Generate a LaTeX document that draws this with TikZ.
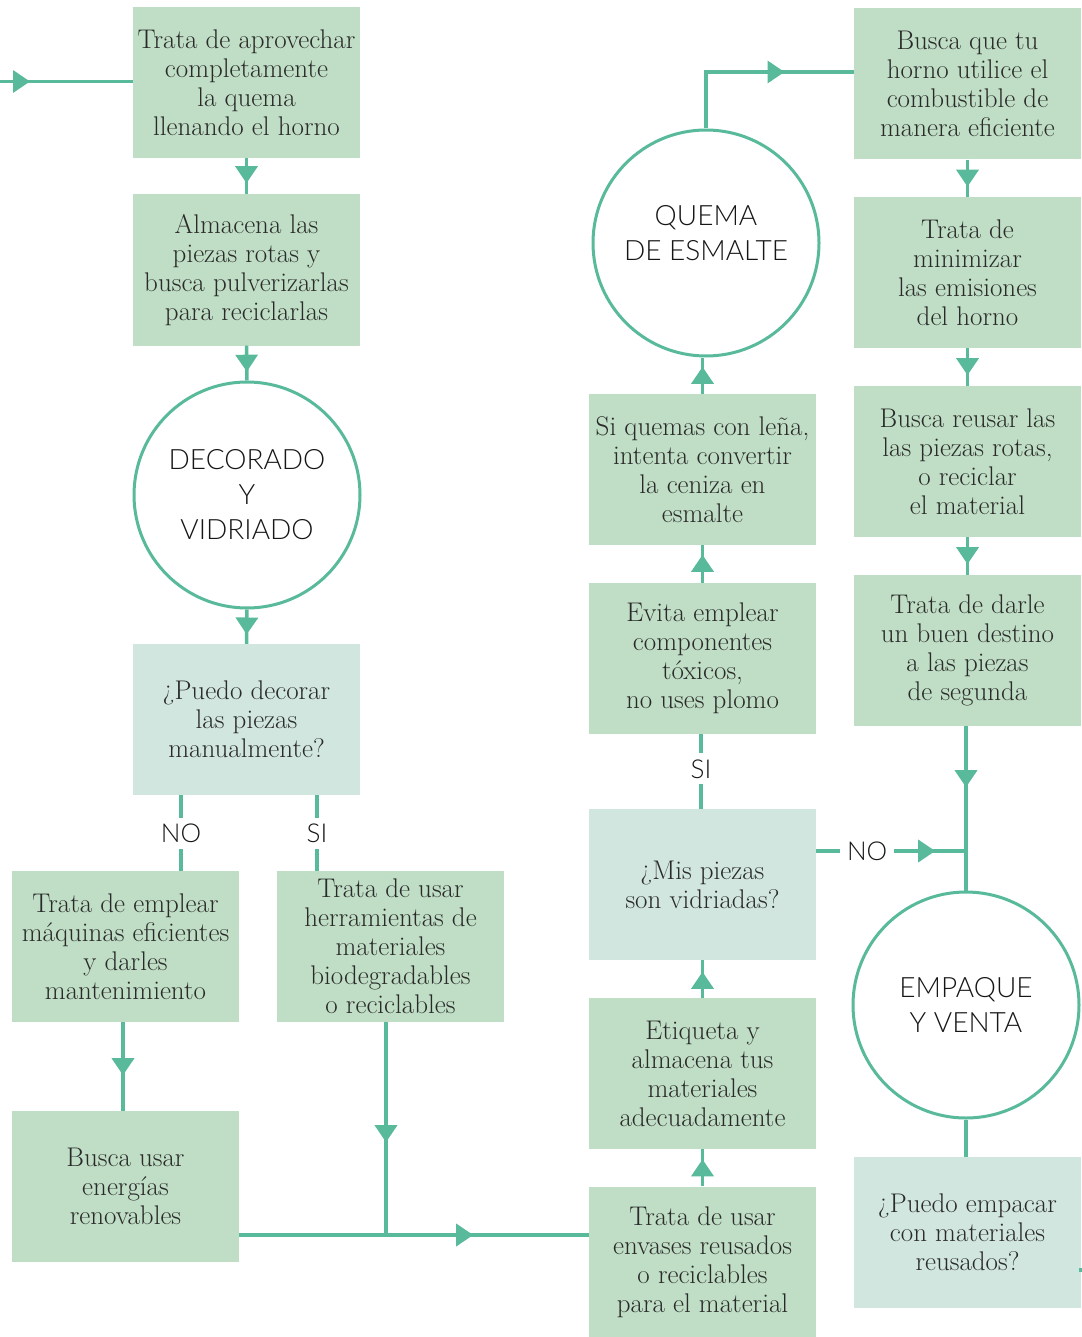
\documentclass[tikz,border=0pt]{standalone}
\usepackage{fontspec}
\usetikzlibrary{arrows.meta,decorations.markings}
\newfontfamily\stagefont{Lato Light}
\definecolor{linegreen}{HTML}{58BA9B}
\definecolor{boxgreen}{HTML}{BFDEC5}
\definecolor{askgreen}{HTML}{D1E6DF}
\definecolor{bodygray}{HTML}{2A2A2A}
\definecolor{stageink}{HTML}{161616}
\tikzset{
  stepbox/.style={rectangle, fill=boxgreen, minimum width=227pt, minimum height=151pt,
    inner sep=0pt, align=center, text=bodygray, font=\fontsize{27}{29}\selectfont},
  askbox/.style={stepbox, fill=askgreen},
  stage/.style={circle, draw=linegreen, line width=3pt, fill=white, minimum size=226pt,
    inner sep=0pt, align=center, text=stageink, font=\stagefont\fontsize{28}{35}\selectfont},
  conn/.style={draw=linegreen, line width=3.5pt},
  arrowat/.style={postaction={decorate, decoration={markings,
    mark=at position #1 with {\arrow{Triangle[length=17pt,width=22pt]}}}}},
  answer/.style={fill=white, text=stageink, font=\stagefont\fontsize{26}{30}\selectfont,
    text height=19pt, text depth=0pt, inner xsep=7pt, inner ysep=6pt},
}
\begin{document}
\begin{tikzpicture}[x=1pt, y=-1pt]
\useasboundingbox (0,0) rectangle (1081,1337);

% left column
\node[stepbox] (A) at (246.5,82.5) {Trata de aprovechar\\completamente\\la quema\\llenando el horno};
\node[stepbox] (B) at (246.5,270) {Almacena las\\piezas rotas y\\busca pulverizarlas\\para reciclarlas};
\node[stage] (C1) at (247,495) {DECORADO\\Y\\VIDRIADO};
\node[askbox] (Q1) at (246.5,719.5) {¿Puedo decorar\\las piezas\\manualmente?};
\node[stepbox] (M) at (125.5,946.5) {Trata de emplear\\máquinas eficientes\\y darles\\mantenimiento};
\node[stepbox] (H) at (390.5,946.5) {Trata de usar\\herramientas de\\materiales\\biodegradables\\o reciclables};
\node[stepbox] (E) at (125.5,1186.5) {Busca usar\\energías\\renovables};

% middle column
\node[stepbox] (V) at (702.5,1262) {Trata de usar\\envases reusados\\o reciclables\\para el material};
\node[stepbox] (Et) at (702.5,1073.5) {Etiqueta y\\almacena tus\\materiales\\adecuadamente};
\node[askbox] (Q2) at (702.5,884.5) {¿Mis piezas\\son vidriadas?};
\node[stepbox] (Ev) at (702.5,658.5) {Evita emplear\\componentes\\tóxicos,\\no uses plomo};
\node[stepbox] (L) at (702.5,469.5) {Si quemas con leña,\\intenta convertir\\la ceniza en\\esmalte};
% this stage title sits a little above the circle's centre
\node[stage] (C2) at (706,243)
  {\raisebox{7pt}[\height][\depth]{\begin{tabular}{@{}c@{}}QUEMA\\DE ESMALTE\end{tabular}}};

% right column
\node[stepbox] (R1) at (967.5,84) {Busca que tu\\horno utilice el\\combustible de\\manera eficiente};
\node[stepbox] (R2) at (967.5,272.5) {Trata de\\minimizar\\las emisiones\\del horno};
\node[stepbox] (R3) at (967.5,461.5) {Busca reusar las\\las piezas rotas,\\o reciclar\\el material};
\node[stepbox] (R4) at (967.5,650.5) {Trata de darle\\un buen destino\\a las piezas\\de segunda};
\node[stage] (C3) at (966,1005) {EMPAQUE\\Y VENTA};
\node[askbox] (Q3) at (967.5,1232.5) {¿Puedo empacar\\con materiales\\reusados?};

% free ends
\coordinate (entry) at (0,81.5);
\coordinate (join) at (386,1235);
\coordinate (noStart) at ([yshift=33.5pt]Q2.east);
\coordinate (outStub) at ([xshift=-2pt,yshift=-37.5pt]Q3.east);

% connectors, left column
\draw[conn, arrowat=30pt] (entry) -- (A.west |- entry);
\draw[conn, arrowat=25pt] (A.south) -- (B.north);
\draw[conn, arrowat=26pt] (B.south) -- (C1.north);
\draw[conn, arrowat=25pt] (C1.south) -- (Q1.north);
\draw[conn] ([xshift=-65.5pt]Q1.south) -- ([xshift=-65.5pt]Q1.south |- M.north)
  node[answer, midway] {NO};
\draw[conn] ([xshift=70.5pt]Q1.south) -- ([xshift=70.5pt]Q1.south |- H.north)
  node[answer, midway] {SI};
\draw[conn, arrowat=53pt] ([xshift=-2.5pt]M.south) -- ([xshift=-2.5pt]E.north);
\draw[conn, arrowat=120pt] (H.south -| join) -- (join);
\draw[conn, arrowat=234pt] (E.east |- join) -- (V.west |- join);

% connectors, middle column
\draw[conn, arrowat=27pt] (V.north) -- (Et.south);
\draw[conn, arrowat=26pt] (Et.north) -- (Q2.south);
\draw[conn] ([xshift=-1.5pt]Q2.north) -- ([xshift=-1.5pt]Ev.south)
  node[answer, midway, yshift=3pt] {SI};
\draw[conn, arrowat=28pt] (Ev.north) -- (L.south);
\draw[conn, arrowat=27pt] (L.north) -- (L.north |- C2.south);
\draw[conn, arrowat=135pt] (C2.north) |- ([yshift=12pt]R1.west);

% connectors, right column
\draw[conn, arrowat=27pt] (R1.south) -- (R2.north);
\draw[conn, arrowat=27pt] (R2.south) -- (R3.north);
\draw[conn, arrowat=27pt] (R3.south) -- (R4.north);
\draw[conn, arrowat=61pt] (C3.north |- R4.south) -- (C3.north);
\draw[conn, arrowat=119pt] (noStart) -- (C3.north |- noStart)
  node[answer, pos=0.34] {NO};
\draw[conn] (C3.south) -- (C3.south |- Q3.north);
\draw[conn] (outStub) -- ++(12,0);
\end{tikzpicture}
\end{document}
